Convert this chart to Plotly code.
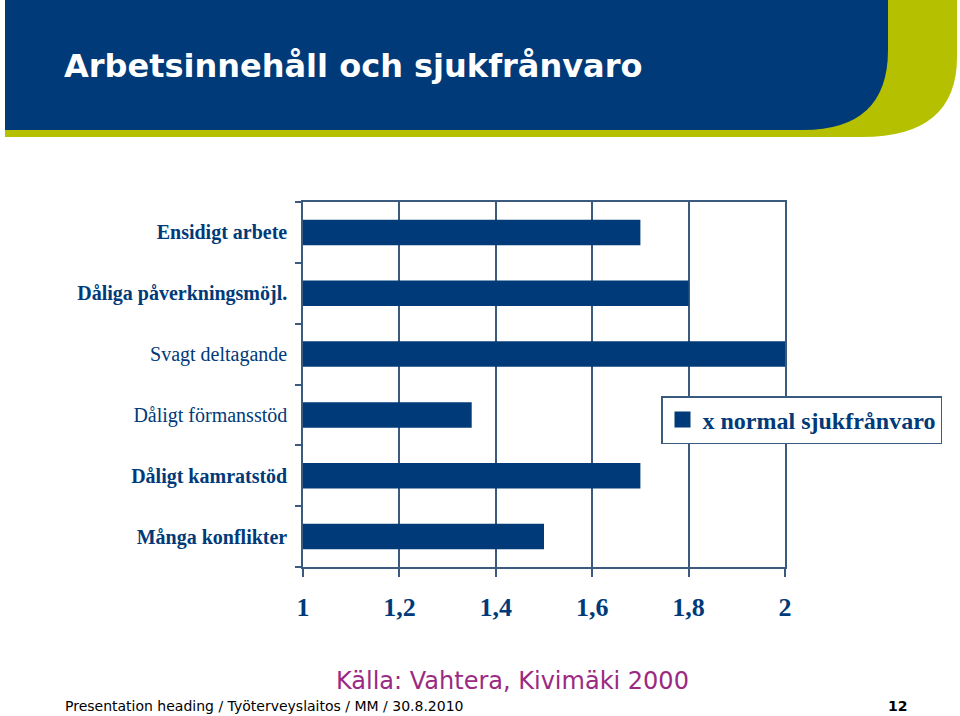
import plotly.graph_objects as go

categories = ["Ensidigt arbete", "Dåliga påverkningsmöjl.", "Svagt deltagande",
              "Dåligt förmansstöd", "Dåligt kamratstöd", "Många konflikter"]
bold_flags = [True, True, False, False, True, True]
values = [1.7, 1.8, 2.0, 1.35, 1.7, 1.5]
series_name = "<b>x normal sjukfrånvaro</b>"
x_ticks = [1, 1.2, 1.4, 1.6, 1.8, 2]
x_tick_labels = ["1", "1,2", "1,4", "1,6", "1,8", "2"]

W, H = 960, 716
NAVY = "#003A78"
GRID = "#3A5A80"
GREEN = "#B5C000"

def px(x):
    return x / W

def py(y):
    return 1 - y / H

tick_text = [f"<b>{c}</b>" if b else c for c, b in zip(categories, bold_flags)]

fig = go.Figure()
fig.add_trace(go.Bar(
    y=categories, x=[v - 1 for v in values], base=1, orientation="h",
    marker=dict(color=NAVY, line=dict(width=0)), width=0.42,
    name=series_name, showlegend=False,
))
# legend entry with a larger square swatch
fig.add_trace(go.Scatter(
    x=[None], y=[None], mode="markers", name=series_name, showlegend=True,
    marker=dict(symbol="square", size=16, color=NAVY),
))

def rounded_rect(x0, y0, x1, y1, rx, ry):
    return (f"M {px(x0)},{py(y0)} L {px(x1)},{py(y0)} L {px(x1)},{py(y1 - ry)} "
            f"Q {px(x1)},{py(y1)} {px(x1 - rx)},{py(y1)} L {px(x0)},{py(y1)} Z")

shapes = [
    dict(type="path", xref="paper", yref="paper", layer="below",
         path=rounded_rect(5, 0, 957, 137, 95, 80), fillcolor=GREEN, line=dict(width=0)),
    dict(type="path", xref="paper", yref="paper", layer="below",
         path=rounded_rect(5, 0, 888, 130, 85, 80), fillcolor=NAVY, line=dict(width=0)),
]

annotations = [
    dict(text="<b>Arbetsinnehåll och sjukfrånvaro</b>", x=px(62), y=py(66),
         xref="paper", yref="paper", xanchor="left", yanchor="middle", showarrow=False,
         font=dict(family="DejaVu Sans", size=32, color="white")),
    dict(text="Källa: Vahtera, Kivimäki 2000", x=px(512), y=py(681),
         xref="paper", yref="paper", xanchor="center", yanchor="middle", showarrow=False,
         font=dict(family="DejaVu Sans", size=24, color="#9A2A82")),
    dict(text="Presentation heading / Työterveyslaitos / MM / 30.8.2010", x=px(63), y=py(706),
         xref="paper", yref="paper", xanchor="left", yanchor="middle", showarrow=False,
         font=dict(family="DejaVu Sans", size=14, color="black")),
    dict(text="<b>12</b>", x=px(909), y=py(706),
         xref="paper", yref="paper", xanchor="right", yanchor="middle", showarrow=False,
         font=dict(family="DejaVu Sans", size=14, color="black")),
]

fig.update_layout(
    width=W, height=H, margin=dict(l=0, r=0, t=0, b=0, autoexpand=False),
    paper_bgcolor="white", plot_bgcolor="white",
    shapes=shapes, annotations=annotations,
    xaxis=dict(domain=[px(303), px(785)], range=[1, 2], tickvals=x_ticks, ticktext=x_tick_labels,
               showgrid=True, gridcolor=GRID, gridwidth=1.5, automargin=False,
               showline=True, linecolor=GRID, linewidth=1.5, mirror=True,
               ticks="outside", ticklen=8, tickcolor=GRID, tickwidth=1.5,
               ticklabelstandoff=8, zeroline=False, fixedrange=True,
               tickfont=dict(family="Liberation Serif", size=26, color=NAVY, weight="bold")),
    yaxis=dict(domain=[py(567), py(202)], categoryorder="array", categoryarray=categories,
               autorange="reversed", tickvals=categories, ticktext=tick_text, automargin=False,
               tickson="boundaries", ticks="outside", ticklen=6, tickcolor=GRID, tickwidth=1.5,
               showline=True, linecolor=GRID, linewidth=1.5, mirror=True,
               showgrid=False, ticklabelstandoff=10, fixedrange=True,
               tickfont=dict(family="Liberation Serif", size=20, color=NAVY)),
    legend=dict(x=px(661), y=py(396), xanchor="left", yanchor="top",
                bgcolor="white", bordercolor=GRID, borderwidth=1.5,
                font=dict(family="Liberation Serif", size=24, color=NAVY),
                itemwidth=30, tracegroupgap=0, itemsizing="trace"),
    showlegend=True,
)

fig.write_html("out.html", config={"displayModeBar": False},
               post_script="document.body.style.margin='0';document.body.style.overflow='hidden';")
